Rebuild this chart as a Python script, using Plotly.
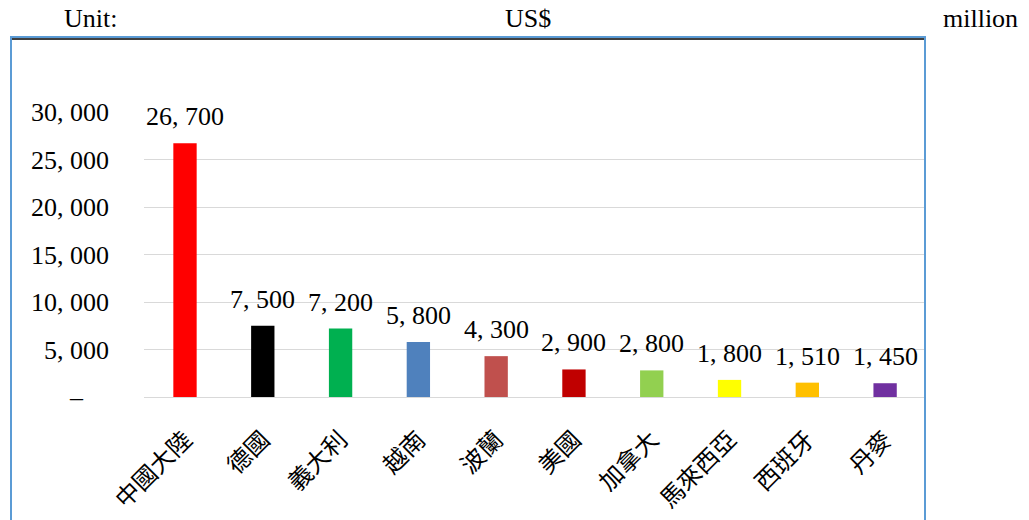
import plotly.graph_objects as go

categories = ["中國大陸", "德國", "義大利", "越南", "波蘭", "美國", "加拿大", "馬來西亞", "西班牙", "丹麥"]
values = [26700, 7500, 7200, 5800, 4300, 2900, 2800, 1800, 1510, 1450]
colors = ["#FF0000", "#000000", "#00B050", "#4F81BD", "#C0504D",
          "#C00000", "#92D050", "#FFFF00", "#FFC000", "#7030A0"]
y_ticks = [0, 5000, 10000, 15000, 20000, 25000, 30000]
unit_texts = ["Unit:", "US$", "million"]


def fmt(v):
    return f"{v:,}".replace(",", ", ")


tick_text = ["–\u00a0\u00a0\u00a0\u00a0" if t == 0 else fmt(t) for t in y_ticks]

W, H = 1029, 520
L, R, T, B = 144, 105, 112, 123
pw, ph = W - L - R, H - T - B


def px(x):
    return (x - L) / pw


def py(y):
    return (H - B - y) / ph


serif = "Liberation Serif, Times New Roman, serif"
cjk = "Noto Sans CJK TC, Noto Sans CJK SC, sans-serif"

fig = go.Figure()
fig.add_trace(go.Bar(
    x=categories, y=values, marker=dict(color=colors, line=dict(width=0)),
    showlegend=False, hoverinfo="x+y",
))

annotations = []
for c, v in zip(categories, values):
    annotations.append(dict(
        x=c, y=v, xref="x", yref="y", text=fmt(v), showarrow=False,
        yanchor="bottom", yshift=10, font=dict(family=serif, size=26, color="#000000"),
    ))

unit_x = [62, 528, 1020]
unit_anchor = ["left", "center", "right"]
for t, x, a in zip(unit_texts, unit_x, unit_anchor):
    annotations.append(dict(
        x=px(x), y=py(18), xref="paper", yref="paper", text=t, showarrow=False,
        xanchor=a, yanchor="middle", font=dict(family=serif, size=26, color="#000000"),
    ))

shapes = [
    dict(type="rect", xref="paper", yref="paper",
         x0=px(11), x1=px(925), y0=py(540), y1=py(37),
         line=dict(color="#5B9BD5", width=2), fillcolor="rgba(0,0,0,0)", layer="below"),
    dict(type="line", xref="paper", yref="paper",
         x0=px(12), x1=px(924), y0=py(39), y1=py(39),
         line=dict(color="#404040", width=2)),
]

fig.update_layout(
    width=W, height=H,
    margin=dict(l=L, r=R, t=T, b=B, pad=0, autoexpand=False),
    plot_bgcolor="#FFFFFF", paper_bgcolor="#FFFFFF",
    bargap=0.7,
    annotations=annotations,
    shapes=shapes,
    xaxis=dict(
        tickangle=-45, tickfont=dict(family=cjk, size=24, color="#000000"),
        showline=True, linecolor="#D9D9D9", linewidth=1, ticks="",
        showgrid=False, fixedrange=True, ticklabelstandoff=18, automargin=False,
    ),
    yaxis=dict(
        range=[0, 30000], tickvals=y_ticks, ticktext=tick_text,
        tickfont=dict(family=serif, size=26, color="#000000"),
        showgrid=True, gridcolor="#D9D9D9", gridwidth=1,
        zeroline=True, zerolinecolor="#D9D9D9", zerolinewidth=1,
        showline=False, ticks="", ticklabelstandoff=34, fixedrange=True,
        automargin=False,
    ),
)

fig.write_html("out.html")
